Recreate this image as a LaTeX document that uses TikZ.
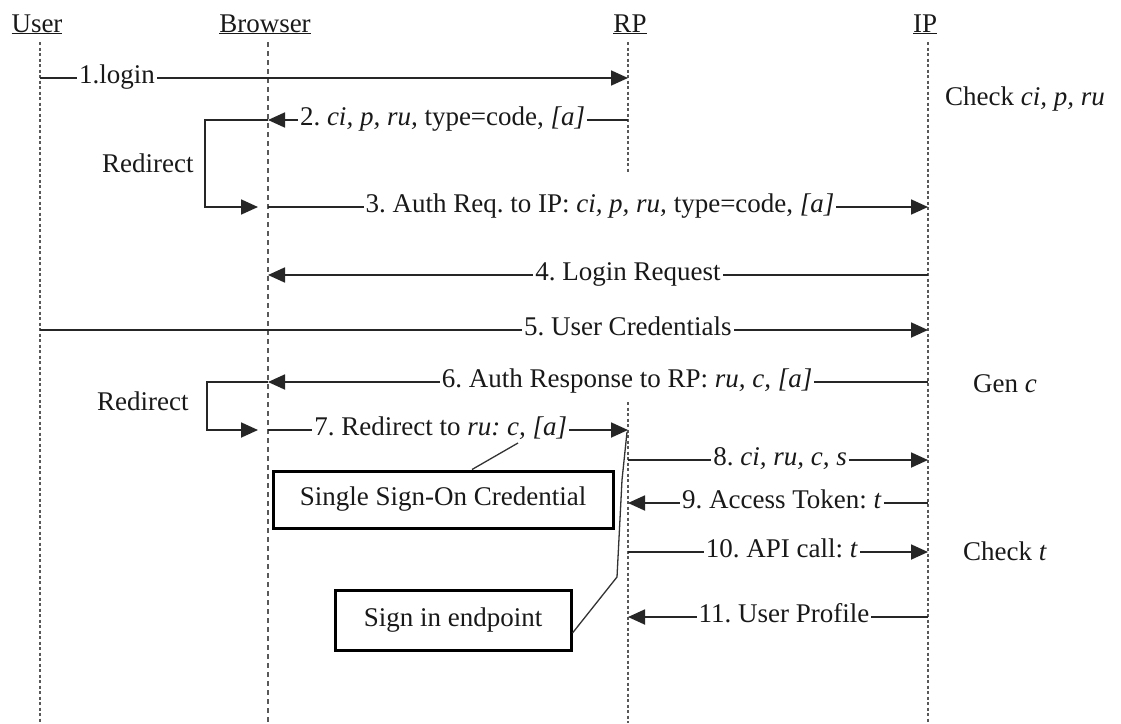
\documentclass[tikz,border=0pt]{standalone}
\usepackage{fontspec}
\setmainfont{Liberation Serif}
\usetikzlibrary{arrows.meta}
\frenchspacing
\begin{document}
\begin{tikzpicture}[x=1pt,y=-1pt,
  every node/.style={font=\fontsize{27}{30}\selectfont, text=black!90},
  life/.style={draw=black!65, line width=1.6pt, dash pattern=on 3pt off 2.5pt},
  lifeb/.style={draw=black!65, line width=1.2pt, dash pattern=on 5pt off 4pt},
  msg/.style={draw=black!85, line width=1.8pt, -{Triangle[length=17pt,width=15pt]}},
  lbl/.style={fill=white, inner xsep=2pt, inner ysep=1pt, anchor=base, yshift=-5pt},
  txt/.style={anchor=base west, inner sep=0pt},
  boxed/.style={draw=black, line width=3pt, inner sep=0pt, align=center},
  callout/.style={draw=black!80, line width=1.3pt}
]
\useasboundingbox (0,0) rectangle (1121,723);
\fill[white] (0,0) rectangle (1121,723);

% headers
\node[anchor=base] (hU) at (37,32) {\underline{User}};
\node[anchor=base] (hB) at (265,32) {\underline{Browser}};
\node[anchor=base] (hR) at (630,32) {\underline{RP}};
\node[anchor=base] (hI) at (925,32) {\underline{IP}};

% lifelines
\coordinate (uT) at (40,42);  \coordinate (uB) at (40,723);
\coordinate (bT) at (268,42); \coordinate (bB) at (268,723);
\coordinate (rT) at (628,42); \coordinate (rM1) at (628,172);
\coordinate (rM2) at (628,402); \coordinate (rB) at (628,723);
\coordinate (iT) at (928,42); \coordinate (iB) at (928,723);
\draw[life] (uT) -- (uB);
\draw[lifeb] (bT) -- (bB);
\draw[life] (rT) -- (rM1);
\draw[life] (rM2) -- (rB);
\draw[life] (iT) -- (iB);

% message anchor points
\coordinate (u1) at (40,78);   \coordinate (r1) at (628,78);
\coordinate (r2) at (628,120); \coordinate (b2) at (268,120);
\coordinate (b3) at (268,207); \coordinate (i3) at (928,207);
\coordinate (i4) at (928,275); \coordinate (b4) at (268,275);
\coordinate (u5) at (40,330);  \coordinate (i5) at (928,330);
\coordinate (i6) at (928,382); \coordinate (b6) at (268,382);
\coordinate (b7) at (268,430); \coordinate (r7) at (628,430);
\coordinate (r8) at (628,460); \coordinate (i8) at (928,460);
\coordinate (i9) at (928,503); \coordinate (r9) at (628,503);
\coordinate (r10) at (628,552); \coordinate (i10) at (928,552);
\coordinate (i11) at (928,617); \coordinate (r11) at (628,617);

% redirect corners
\coordinate (rd1) at (205,207); \coordinate (rd1e) at (258,207);
\coordinate (rd2) at (207,430); \coordinate (rd2e) at (258,430);

% messages
\draw[msg] (u1) -- node[lbl, pos=0.131] (l1) {1.login} (r1);
\draw[msg] (r2) -- node[lbl, pos=0.515] (l2) {2. \textit{ci, p, ru,} type=code, \textit{[a]}} (b2);
\draw[msg] (b2) -| (rd1) -- (rd1e);
\node[txt] (rdl1) at (102,172) {Redirect};
\draw[msg] (b3) -- node[lbl, pos=0.503] (l3) {3. Auth Req. to IP: \textit{ci, p, ru,} type=code, \textit{[a]}} (i3);
\draw[msg] (i4) -- node[lbl, pos=0.4545] (l4) {4. Login Request} (b4);
\draw[msg] (u5) -- node[lbl, pos=0.662] (l5) {5. User Credentials} (i5);
\draw[msg] (i6) -- node[lbl, pos=0.456] (l6) {6. Auth Response to RP: \textit{ru, c, [a]}} (b6);
\draw[msg] (b6) -| (rd2) -- (rd2e);
\node[txt] (rdl2) at (97,410) {Redirect};
\draw[msg] (b7) -- node[lbl, pos=0.48] (l7) {7. Redirect to \textit{ru: c, [a]}} (r7);
\draw[msg] (r8) -- node[lbl, pos=0.507] (l8) {8. \textit{ci, ru, c, s}} (i8);
\draw[msg] (i9) -- node[lbl, pos=0.487] (l9) {9. Access Token: \textit{t}} (r9);
\draw[msg] (r10) -- node[lbl, pos=0.513] (l10) {10. API call: \textit{t}} (i10);
\draw[msg] (i11) -- node[lbl, pos=0.48] (l11) {11. User Profile} (r11);

% side notes
\node[txt] (n1) at (945,105) {Check \textit{ci, p, ru}};
\node[txt] (n2) at (973,392) {Gen \textit{c}};
\node[txt] (n3) at (963,560) {Check \textit{t}};

% boxes
\node[boxed, minimum width=340pt, minimum height=57pt] (sso) at (443,499.5) {Single Sign-On Credential};
\node[boxed, minimum width=236pt, minimum height=60pt] (sie) at (453,620) {Sign in endpoint};

% callouts
\coordinate (c1b) at (518,443);
\draw[callout] ([xshift=29pt]sso.north) -- (c1b);
\coordinate (c2a) at (617,577); \coordinate (c2b) at (622,480); \coordinate (c2c) at (627,432);
\draw[callout] ([yshift=-13pt]sie.east) -- (c2a) -- (c2b) -- (c2c);
\end{tikzpicture}
\end{document}
